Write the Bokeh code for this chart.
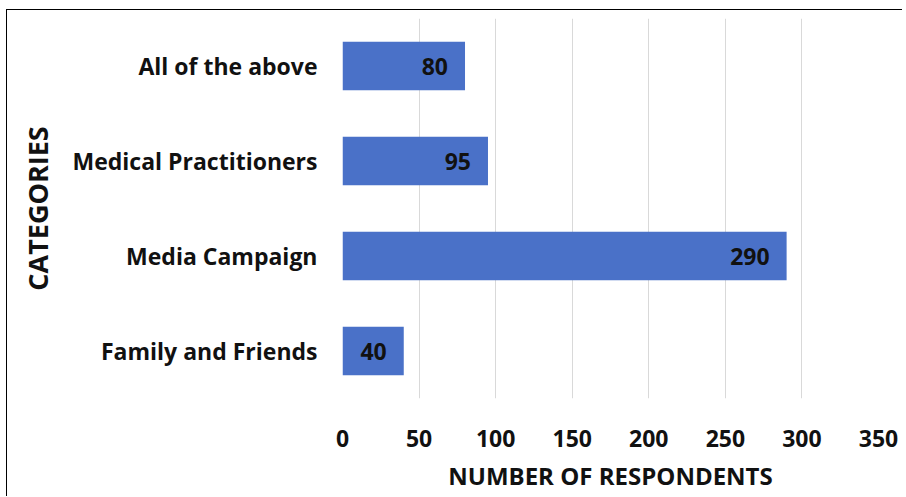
from bokeh.plotting import figure
from bokeh.models import ColumnDataSource, Range1d, FixedTicker, LabelSet
from bokeh.core.properties import value
from bokeh.embed import file_html
from bokeh.resources import INLINE

categories = ["Family and Friends", "Media Campaign", "Medical Practitioners", "All of the above"]
values = [40, 290, 95, 80]
x_ticks = [0, 50, 100, 150, 200, 250, 300, 350]

FONT = "Open Sans"
src = ColumnDataSource(dict(cat=categories, val=values, lab=[str(v) for v in values]))

p = figure(y_range=categories, x_range=Range1d(0, 350), width=896, height=487,
           output_backend="svg", toolbar_location=None,
           min_border_left=335, min_border_right=25, min_border_top=8, min_border_bottom=99)
p.styles = {"border-left": "1px solid #000", "border-top": "1px solid #000",
            "box-sizing": "border-box", "margin-left": "6px", "margin-top": "9px"}
p.outline_line_color = None
p.background_fill_color = "white"

p.hbar(y="cat", right="val", left=0, height=0.51, source=src,
       fill_color="#4a71c8", line_color=None)

labels = LabelSet(x="val", y="cat", text="lab", source=src, x_offset=-17,
                  text_align="right", text_baseline="middle",
                  text_font=value(FONT), text_font_style="bold", text_font_size="23px",
                  text_color="#111111")
p.add_layout(labels)

p.xaxis.ticker = FixedTicker(ticks=x_ticks)
p.xgrid.ticker = FixedTicker(ticks=x_ticks)
p.xgrid.grid_line_color = "#d9d9d9"
p.xgrid.grid_line_width = 1
p.ygrid.grid_line_color = None

for ax in (p.xaxis, p.yaxis):
    ax.axis_line_color = None
    ax.major_tick_line_color = None
    ax.minor_tick_line_color = None
    ax.major_label_text_font = FONT
    ax.major_label_text_font_style = "bold"
    ax.major_label_text_color = "#111111"
    ax.axis_label_text_font = FONT
    ax.axis_label_text_font_style = "bold"
    ax.axis_label_text_color = "#111111"

p.xaxis.major_label_text_font_size = "23px"
p.xaxis.major_label_standoff = 25
p.xaxis.axis_label = "NUMBER OF RESPONDENTS"
p.xaxis.axis_label_text_font_size = "24px"
p.xaxis.axis_label_standoff = 9

p.yaxis.major_label_text_font_size = "23px"
p.yaxis.major_label_standoff = 19
p.yaxis.axis_label = "CATEGORIES"
p.yaxis.axis_label_text_font_size = "27px"
p.yaxis.axis_label_standoff = 14

open("out.html", "w").write(file_html(p, INLINE))
